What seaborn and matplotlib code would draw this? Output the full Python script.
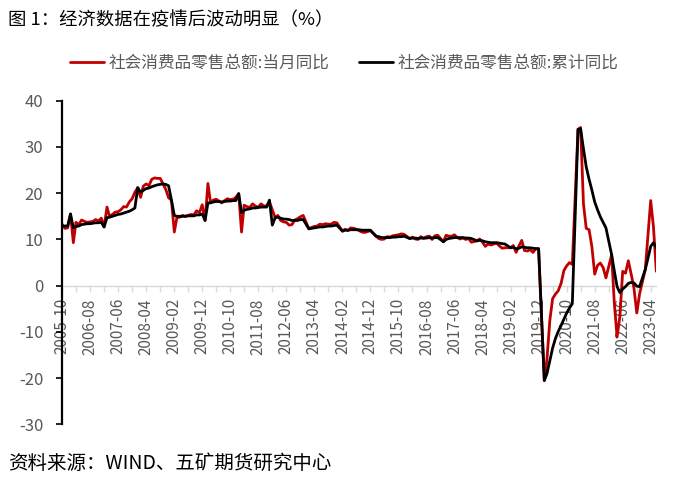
import matplotlib
matplotlib.use("Agg")
import matplotlib.pyplot as plt
import numpy as np
import pandas as pd
import seaborn as sns

# 社会消费品零售总额 当月同比 / 累计同比 (%), 2005-10 ~ 2023-06
# 2012 年起 1 月无单月数据
nan = np.nan
dangyue = [
    13.3, 12.4, 12.5,
    15.5, 9.3, 13.7, 13.2, 14.2, 13.9, 13.7, 13.8, 13.9, 14.3, 14.0, 14.6,
    12.7, 17.0, 15.0, 15.4, 15.9, 16.0, 16.4, 17.1, 17.0, 18.1, 18.8, 20.2,
    21.2, 19.1, 21.5, 22.0, 21.6, 23.0, 23.3, 23.2, 23.2, 22.0, 20.8, 19.0,
    18.5, 11.6, 14.7, 14.8, 15.2, 15.0, 15.2, 15.4, 15.3, 16.2, 15.8, 17.5,
    14.1, 22.1, 18.0, 18.5, 18.7, 18.3, 17.9, 18.4, 18.8, 18.6, 18.7, 19.1,
    19.9, 11.6, 17.4, 17.1, 16.9, 17.7, 17.2, 17.0, 17.7, 17.2, 17.3, 18.1,
    nan, 14.7, 15.2, 14.1, 13.8, 13.7, 13.1, 13.2, 14.2, 14.5, 14.9, 15.2,
    nan, 12.3, 12.6, 12.8, 12.9, 13.3, 13.2, 13.4, 13.3, 13.3, 13.7, 13.6,
    nan, 11.8, 12.2, 11.9, 12.5, 12.4, 12.2, 11.9, 11.6, 11.5, 11.7, 11.9,
    nan, 10.7, 10.2, 10.0, 10.1, 10.6, 10.5, 10.8, 10.9, 11.0, 11.2, 11.1,
    nan, 10.2, 10.5, 10.1, 10.0, 10.6, 10.2, 10.6, 10.7, 10.0, 10.8, 10.9,
    nan, 9.5, 10.9, 10.7, 10.7, 11.0, 10.4, 10.1, 10.3, 10.0, 10.2, 9.4,
    nan, 9.7, 10.1, 9.4, 8.5, 9.0, 8.8, 9.0, 9.2, 8.6, 8.1, 8.2,
    nan, 8.2, 8.7, 7.2, 8.6, 9.8, 7.6, 7.5, 7.8, 7.2, 8.0, 8.0,
    nan, -20.5, -15.8, -7.5, -2.8, -1.8, -1.1, 0.5, 3.3, 4.3, 5.0, 4.6,
    nan, 33.8, 34.2, 17.7, 12.4, 12.1, 8.5, 2.5, 4.4, 4.9, 3.9, 1.7,
    nan, 6.7, -3.5, -11.1, -6.7, 3.1, 2.7, 5.4, 2.5, -0.5, -5.9, -1.8,
    nan, 3.5, 10.6, 18.4, 12.7, 3.1,
]
leiji = [
    12.9, 12.9, 12.9,
    15.5, 12.5, 12.8, 12.9, 13.2, 13.3, 13.4, 13.4, 13.5, 13.6, 13.6, 13.7,
    12.7, 14.7, 14.8, 15.0, 15.2, 15.4, 15.5, 15.7, 15.9, 16.1, 16.4, 16.8,
    21.2, 20.2, 20.6, 21.0, 21.1, 21.4, 21.6, 21.8, 21.9, 22.0, 21.9, 21.6,
    18.5, 15.2, 15.0, 15.0, 15.0, 15.0, 15.1, 15.1, 15.1, 15.3, 15.3, 15.5,
    14.1, 17.9, 17.9, 18.1, 18.2, 18.2, 18.1, 18.2, 18.3, 18.3, 18.4, 18.4,
    19.9, 15.8, 16.3, 16.5, 16.6, 16.8, 16.8, 16.9, 17.0, 17.0, 17.0, 18.5,
    13.1, 14.7, 14.8, 14.6, 14.4, 14.4, 14.3, 14.1, 14.1, 14.1, 14.3, 14.3,
    nan, 12.3, 12.4, 12.5, 12.6, 12.7, 12.7, 12.8, 12.9, 12.9, 13.0, 13.1,
    nan, 11.8, 12.0, 12.0, 12.1, 12.1, 12.1, 12.1, 12.0, 12.0, 12.0, 12.0,
    nan, 10.7, 10.6, 10.4, 10.4, 10.4, 10.4, 10.5, 10.5, 10.6, 10.6, 10.7,
    nan, 10.2, 10.3, 10.3, 10.2, 10.3, 10.3, 10.3, 10.4, 10.3, 10.4, 10.4,
    nan, 9.5, 10.0, 10.2, 10.3, 10.4, 10.4, 10.4, 10.4, 10.3, 10.3, 10.2,
    nan, 9.7, 9.8, 9.7, 9.5, 9.4, 9.3, 9.3, 9.3, 9.2, 9.1, 9.0,
    nan, 8.2, 8.3, 8.0, 8.1, 8.4, 8.3, 8.2, 8.2, 8.1, 8.0, 8.0,
    nan, -20.5, -19.0, -16.2, -13.5, -11.4, -9.9, -8.6, -7.2, -5.9, -4.8, -3.9,
    nan, 33.8, 33.9, 29.6, 25.7, 23.0, 20.7, 18.1, 16.4, 14.9, 13.7, 12.5,
    nan, 6.7, 3.3, -0.2, -1.5, -0.7, -0.2, 0.5, 0.7, 0.6, -0.1, -0.2,
    nan, 3.5, 5.8, 8.5, 9.3, 8.2,
]
yuefen = pd.date_range("2005-10-01", "2023-06-01", freq="MS")
tick_dates = pd.date_range("2005-10-01", "2023-06-01", freq="10MS")
minor_dates = pd.date_range("2006-03-01", "2023-06-01", freq="10MS")
y_ticks = [-30, -20, -10, 0, 10, 20, 30, 40]

label_dy = "社会消费品零售总额:当月同比"
label_lj = "社会消费品零售总额:累计同比"

sns.set_theme(style="white")
plt.rcParams["font.family"] = ["Noto Sans CJK SC", "DejaVu Sans"]
plt.rcParams["axes.unicode_minus"] = False

df = pd.DataFrame({"月份": yuefen, "当月": dangyue, "累计": leiji})
df_dy = df.dropna(subset=["当月"])
df_lj = df.dropna(subset=["累计"])

fig = plt.figure(figsize=(7, 4.84), dpi=100)
ax = fig.add_axes([0.0886, 0.123, 0.849, 0.669])

sns.lineplot(data=df_dy, x="月份", y="当月", color="#C00000", linewidth=2.0,
             label=label_dy, ax=ax, legend=False)
sns.lineplot(data=df_lj, x="月份", y="累计", color="black", linewidth=2.0,
             label=label_lj, ax=ax, legend=False)

ax.set_xlim(yuefen[0], yuefen[-1])
ax.set_ylim(-30, 40)
ax.set_yticks(y_ticks)
ax.set_xticks(tick_dates)
ax.set_xticks(minor_dates, minor=True)
ax.set_xticklabels([d.strftime("%Y-%m") for d in tick_dates])
ax.set_xlabel("")
ax.set_ylabel("")

for s in ["top", "right"]:
    ax.spines[s].set_visible(False)
ax.spines["bottom"].set_position(("data", 0))
ax.spines["bottom"].set_color("#D9D9D9")
ax.spines["bottom"].set_linewidth(1.0)
ax.spines["bottom"].set_zorder(0)
ax.spines["left"].set_color("black")
ax.spines["left"].set_linewidth(1.6)

ax.tick_params(axis="x", which="both", direction="out", length=4, width=1,
               color="#D9D9D9", labelcolor="#595959", labelsize=11, pad=5,
               bottom=True, labelrotation=90)
ax.tick_params(axis="y", direction="out", length=4, width=1.2, color="black",
               labelcolor="#595959", labelsize=12, pad=9.5, left=True)
for t in ax.get_xticklabels():
    t.set_ha("center")
    t.set_va("top")

handles, labels = ax.get_legend_handles_labels()
fig.legend(handles, labels, loc="center", bbox_to_anchor=(0.492, 0.87), ncol=2,
           frameon=False, fontsize=12, handlelength=2.0, handletextpad=0.3,
           columnspacing=1.8, labelcolor="#595959")

fig.text(8 / 700, 1 - 20 / 484, "图 1：经济数据在疫情后波动明显（%）",
         fontsize=13.2, color="black", ha="left", va="center")
fig.text(8 / 700, 1 - 463 / 484, "资料来源：WIND、五矿期货研究中心",
         fontsize=14, color="black", ha="left", va="center")

fig.savefig("out.png", dpi=100)
plt.close(fig)
